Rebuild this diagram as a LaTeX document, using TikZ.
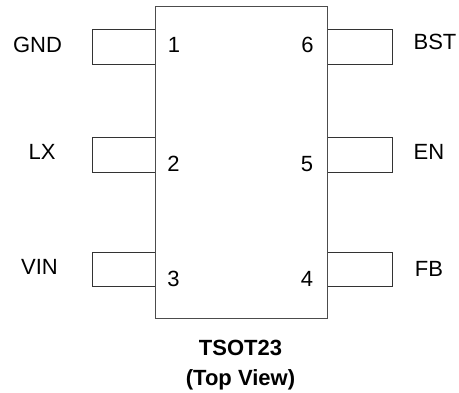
\documentclass[tikz,border=0pt]{standalone}
\usepackage{fontspec}
\setmainfont{Liberation Sans}
\tikzset{
  pinbox/.style={draw=black!80,line width=0.8pt,fill=white},
  lbl/.style={inner sep=0pt,font=\fontsize{22}{22}\selectfont},
  captiontext/.style={inner sep=0pt,align=center,font=\fontsize{22}{30}\selectfont\bfseries}
}
\begin{document}
\begin{tikzpicture}[x=1pt,y=-1pt]
\useasboundingbox (0,0) rectangle (459,392);
\path[fill=white] (0,0) rectangle (459,392);
\draw[pinbox] (92.5,29.7) rectangle (155,64.3);
\draw[pinbox] (92.5,137) rectangle (155,172);
\draw[pinbox] (92.5,252) rectangle (155,286.7);
\draw[pinbox] (327,29.7) rectangle (392.5,64.3);
\draw[pinbox] (327,137) rectangle (392.5,172);
\draw[pinbox] (327,252) rectangle (392.5,286.7);
\draw[draw=black!70,line width=1pt] (155,6.7) rectangle (327,318);
\node[lbl] (gnd) at (37.5,45) {GND};
\node[lbl] (lx) at (42,152) {LX};
\node[lbl] (vin) at (39.5,267) {VIN};
\node[lbl] (bst) at (435,41.5) {BST};
\node[lbl] (en) at (429,152) {EN};
\node[lbl] (fb) at (429,268.5) {FB};
\node[lbl] (n1) at (174,45) {1};
\node[lbl] (n2) at (173.5,164) {2};
\node[lbl] (n3) at (173.5,279) {3};
\node[lbl] (n6) at (307.5,45) {6};
\node[lbl] (n5) at (307,164) {5};
\node[lbl] (n4) at (307,279) {4};
\node[captiontext] (title) at (240.5,365.5) {TSOT23\\(Top View)};
\end{tikzpicture}
\end{document}
